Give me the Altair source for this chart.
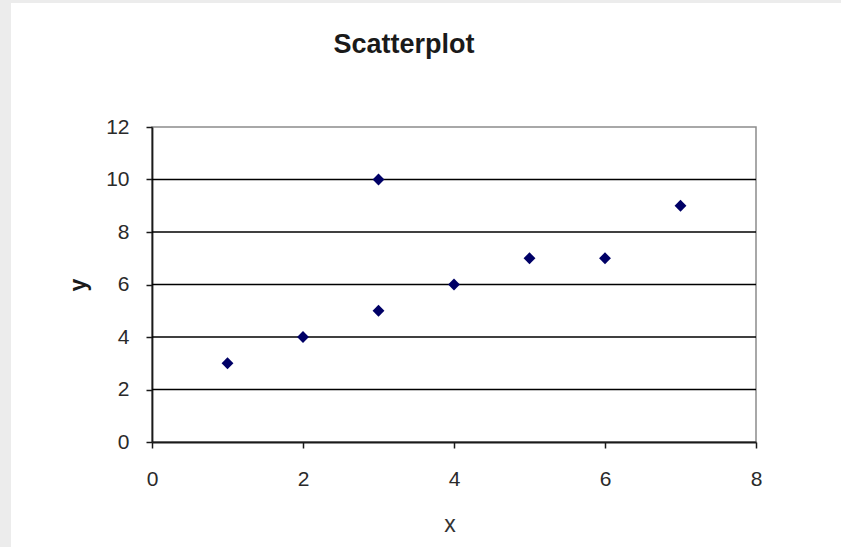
import altair as alt
import pandas as pd

# Observed (x, y) pairs
x_vals = [1, 2, 3, 3, 4, 5, 6, 7]
y_vals = [3, 4, 5, 10, 6, 7, 7, 9]

x_ticks = [0, 2, 4, 6, 8]
y_ticks = [0, 2, 4, 6, 8, 10, 12]
grid_levels = [2, 4, 6, 8, 10]

chart_title = "Scatterplot"
x_title = "x"
y_title = "y"

df = pd.DataFrame({"x": x_vals, "y": y_vals})
grid_df = pd.DataFrame({"level": grid_levels})
one = pd.DataFrame({"k": [0]})

W, H = 604, 315
PAD = {"left": 152, "top": 127, "right": 85, "bottom": 105}
FONT = "Liberation Sans"
INK = "#1a1a1a"

x_scale = alt.Scale(domain=[0, 8], nice=False, zero=True)
y_scale = alt.Scale(domain=[0, 12], nice=False, zero=True)

# light grey frame strips on the left and top edges of the page
frame_left = alt.Chart(one).mark_rect(color="#ececec", clip=False).encode(
    x=alt.value(-PAD["left"]), x2=alt.value(-PAD["left"] + 11),
    y=alt.value(-PAD["top"]), y2=alt.value(H + PAD["bottom"]),
)
frame_top = alt.Chart(one).mark_rect(color="#ececec", clip=False).encode(
    x=alt.value(-PAD["left"]), x2=alt.value(W + PAD["right"]),
    y=alt.value(-PAD["top"]), y2=alt.value(-PAD["top"] + 3),
)

# horizontal gridlines
grid = alt.Chart(grid_df).mark_rule(color="#000000", strokeWidth=1.5).encode(
    y=alt.Y("level:Q", scale=y_scale),
    x=alt.value(0), x2=alt.value(W),
)

points = alt.Chart(df).mark_point(
    shape="diamond", filled=True, color="#000066", size=140, opacity=1
).encode(
    x=alt.X(
        "x:Q", scale=x_scale, title=None,
        axis=alt.Axis(values=x_ticks, grid=False, tickSize=6, labelPadding=20,
                      labelFlush=False),
    ),
    y=alt.Y(
        "y:Q", scale=y_scale, title=None,
        axis=alt.Axis(values=y_ticks, grid=False, tickSize=6, labelPadding=17,
                      labelFlush=False),
    ),
)

# titles as text placed relative to the plot area
title_mark = alt.Chart(one).mark_text(
    text=chart_title, font=FONT, fontSize=27, fontWeight="bold", color=INK,
    align="center", baseline="alphabetic",
).encode(x=alt.value(252), y=alt.value(-74))

x_title_mark = alt.Chart(one).mark_text(
    text=x_title, font=FONT, fontSize=23, color="#333333",
    align="center", baseline="alphabetic",
).encode(x=alt.value(298), y=alt.value(H + 90))

y_title_mark = alt.Chart(one).mark_text(
    text=y_title, font=FONT, fontSize=23, fontWeight="bold", color=INK,
    align="center", baseline="middle", angle=270,
).encode(x=alt.value(-73), y=alt.value(158))

chart = alt.layer(
    frame_left, frame_top, grid, points, title_mark, x_title_mark, y_title_mark
).properties(
    width=W, height=H,
    padding=PAD,
    autosize=alt.AutoSizeParams(type="none"),
    background="#ffffff",
).configure_view(
    stroke="#8c8c8c", strokeWidth=1.5,
).configure_axis(
    domainColor=INK, domainWidth=1.8, tickColor=INK, tickWidth=1.5,
    labelFont=FONT, labelFontSize=21, labelColor="#2a2a2a",
)

chart.save("out.html", embed_options={"renderer": "svg", "actions": False})
